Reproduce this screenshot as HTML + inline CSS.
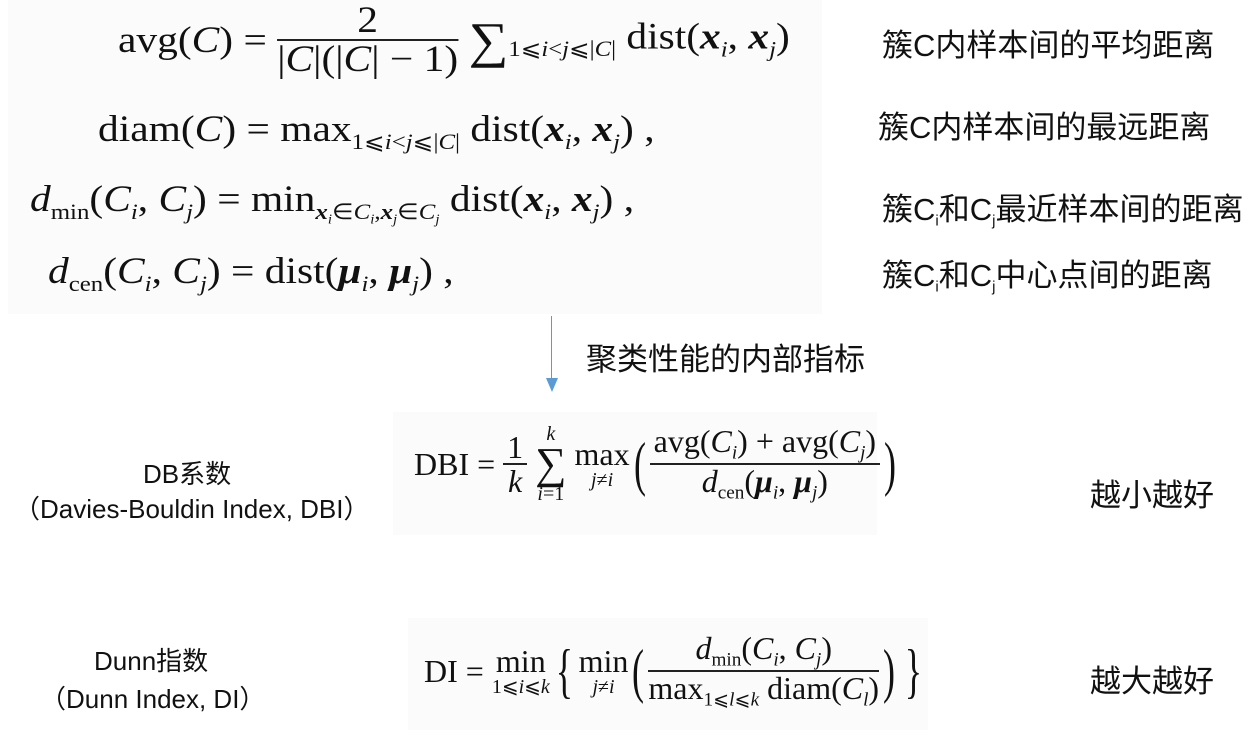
<!DOCTYPE html>
<html><head><meta charset="utf-8"><style>
body{margin:0;width:1256px;height:740px;background:#fff;position:relative;overflow:hidden;font-family:"Liberation Serif",serif;color:#111}
.a{position:absolute;white-space:nowrap}
.f{font-size:32px;font-family:"Liberation Serif",serif}
.t{font-size:37px;transform-origin:0 0;transform:scaleX(1.12)}
i{font-style:italic}
b{font-weight:bold;font-style:italic}
sub{font-size:60%;vertical-align:-0.35em}
.zh{font-family:"Liberation Sans","Noto Sans CJK SC",sans-serif;font-size:31px;color:#111}
.lz{font-size:26px}
.box{position:absolute;background:#fbfbfb}
.fr{display:inline-block;vertical-align:middle;text-align:center}
.fr span{display:block}
.fr .num{border-bottom:2px solid #222;padding:0 4px}
.p{font-size:60px;vertical-align:middle;font-weight:normal;transform:scaleX(0.6);display:inline-block}
</style></head><body>
<div class="box" style="left:8px;top:0;width:814px;height:314px"></div>
<div class="box" style="left:393px;top:412px;width:484px;height:123px"></div>
<div class="box" style="left:408px;top:618px;width:520px;height:112px"></div>

<div class="a f t" style="left:118px;top:2px;line-height:1">
<span style="display:inline-block;vertical-align:middle">avg(<i>C</i>) =</span>
<span class="fr"><span class="num">2</span><span>|<i>C</i>|(|<i>C</i>| − 1)</span></span>
<span style="font-size:50px;vertical-align:middle">∑</span><sub style="font-size:22px">1⩽<i>i</i>&lt;<i>j</i>⩽|<i>C</i>|</sub> dist(<b>x</b><sub><i>i</i></sub>, <b>x</b><sub><i>j</i></sub>)
</div>
<div class="a f t" style="left:98px;top:108px">diam(<i>C</i>) = max<sub>1⩽<i>i</i>&lt;<i>j</i>⩽|<i>C</i>|</sub> dist(<b>x</b><sub><i>i</i></sub>, <b>x</b><sub><i>j</i></sub>) ,</div>
<div class="a f t" style="left:30px;top:178px"><i>d</i><sub>min</sub>(<i>C<sub>i</sub></i>, <i>C<sub>j</sub></i>) = min<sub><b>x</b><sub><i>i</i></sub>∈<i>C<sub>i</sub></i>,<b>x</b><sub><i>j</i></sub>∈<i>C<sub>j</sub></i></sub> dist(<b>x</b><sub><i>i</i></sub>, <b>x</b><sub><i>j</i></sub>) ,</div>
<div class="a f t" style="left:48px;top:250px"><i>d</i><sub>cen</sub>(<i>C<sub>i</sub></i>, <i>C<sub>j</sub></i>) = dist(<b>μ</b><sub><i>i</i></sub>, <b>μ</b><sub><i>j</i></sub>) ,</div>

<div class="a zh" style="left:882px;top:20px">簇C内样本间的平均距离</div>
<div class="a zh" style="left:878px;top:102px">簇C内样本间的最远距离</div>
<div class="a zh" style="left:882px;top:184px">簇C<sub style="font-size:15px">i</sub>和C<sub style="font-size:15px">j</sub>最近样本间的距离</div>
<div class="a zh" style="left:882px;top:250px">簇C<sub style="font-size:15px">i</sub>和C<sub style="font-size:15px">j</sub>中心点间的距离</div>

<div class="a" style="left:551px;top:316px;width:1px;height:66px;background:#5b9bd5"></div>
<div class="a" style="left:546px;top:378px;width:0;height:0;border-left:6px solid transparent;border-right:6px solid transparent;border-top:14px solid #5b9bd5"></div>
<div class="a zh" style="left:586px;top:334px">聚类性能的内部指标</div>

<div class="a zh lz" style="left:143px;top:454px">DB系数</div>
<div class="a zh lz" style="left:14px;top:489px">（Davies-Bouldin Index, DBI）</div>
<div class="a zh lz" style="left:94px;top:641px">Dunn指数</div>
<div class="a zh lz" style="left:40px;top:679px">（Dunn Index, DI）</div>

<div class="a zh" style="left:1090px;top:470px">越小越好</div>
<div class="a zh" style="left:1090px;top:656px">越大越好</div>

<div class="a f" style="left:414px;top:424px;line-height:1">
<span style="vertical-align:middle">DBI =</span>
<span class="fr"><span class="num">1</span><span><i>k</i></span></span>
<span class="fr" style="font-size:20px"><span><i>k</i></span><span style="font-size:44px;line-height:0.9">∑</span><span><i>i</i>=1</span></span>
<span class="fr"><span>max</span><span style="font-size:20px"><i>j</i>≠<i>i</i></span></span><span class="p">(</span><span class="fr"><span class="num">avg(<i>C<sub>i</sub></i>) + avg(<i>C<sub>j</sub></i>)</span><span><i>d</i><sub>cen</sub>(<b>μ</b><sub><i>i</i></sub>, <b>μ</b><sub><i>j</i></sub>)</span></span><span class="p">)</span>
</div>

<div class="a f" style="left:424px;top:632px;line-height:1">
<span style="vertical-align:middle">DI =</span>
<span class="fr"><span>min</span><span style="font-size:20px">1⩽<i>i</i>⩽<i>k</i></span></span><span class="p">{</span><span class="fr"><span>min</span><span style="font-size:20px"><i>j</i>≠<i>i</i></span></span><span class="p">(</span><span class="fr"><span class="num"><i>d</i><sub>min</sub>(<i>C<sub>i</sub></i>, <i>C<sub>j</sub></i>)</span><span>max<sub>1⩽<i>l</i>⩽<i>k</i></sub> diam(<i>C<sub>l</sub></i>)</span></span><span class="p">)</span><span class="p">}</span>
</div>
</body></html>
